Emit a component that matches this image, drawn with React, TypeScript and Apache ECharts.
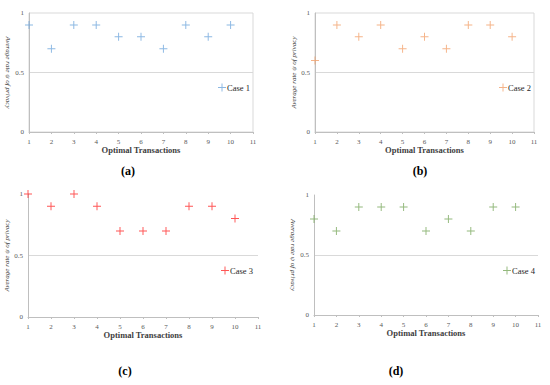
import React, { useEffect, useRef } from "react";
import * as echarts from "echarts";

const transactions = [1, 2, 3, 4, 5, 6, 7, 8, 9, 10];
const case1 = [0.9, 0.7, 0.9, 0.9, 0.8, 0.8, 0.7, 0.9, 0.8, 0.9];
const case2 = [0.6, 0.9, 0.8, 0.9, 0.7, 0.8, 0.7, 0.9, 0.9, 0.8];
const case3 = [1.0, 0.9, 1.0, 0.9, 0.7, 0.7, 0.7, 0.9, 0.9, 0.8];
const case4 = [0.8, 0.7, 0.9, 0.9, 0.9, 0.7, 0.8, 0.7, 0.9, 0.9];
const seriesNames = ["Case 1", "Case 2", "Case 3", "Case 4"];
const captions = ["(a)", "(b)", "(c)", "(d)"];
const xAxisName = "Optimal Transactions";
const yAxisName = "Average rate ψ of privacy";

const PLUS = "path://M0,4.4h10v1.2h-10z M4.4,0h1.2v10h-1.2z";
const FONT = "Liberation Serif";

export default function App() {
  const ref = useRef<HTMLDivElement>(null);
  useEffect(() => {
    if (!ref.current) return;
    const chart = echarts.init(ref.current, undefined, { renderer: "svg" });
    const values = [case1, case2, case3, case4];
    const colors = ["#6FA6DC", "#F2A06A", "#FF2B2B", "#79A75C"];
    const grids = [
      { left: 29, top: 13, width: 224, height: 119, show: true, borderColor: "#d9d9d9", borderWidth: 1 },
      { left: 315, top: 13, width: 219, height: 119, show: true, borderColor: "#d9d9d9", borderWidth: 1 },
      { left: 28, top: 194, width: 230, height: 123, show: false },
      { left: 314, top: 195, width: 224, height: 120, show: false },
    ];
    const legendPos = [
      { left: 218, top: 83 },
      { left: 499, top: 83 },
      { left: 221, top: 266 },
      { left: 503, top: 266 },
    ];
    const captionPos = [
      { left: 128, top: 165 },
      { left: 420, top: 165 },
      { left: 125, top: 365 },
      { left: 396, top: 365 },
    ];
    const yNameRotate = [-90, 90, 90, -90];

    const option: any = {
      animation: false,
      backgroundColor: "#ffffff",
      textStyle: { fontFamily: FONT },
      title: captions.map((c, i) => ({
        text: c,
        left: captionPos[i].left,
        top: captionPos[i].top,
        textAlign: "center",
        padding: 0,
        textStyle: { fontFamily: FONT, fontWeight: "bold", fontSize: 12, color: "#000" },
      })),
      grid: grids,
      legend: seriesNames.map((n, i) => ({
        data: [n],
        left: legendPos[i].left,
        top: legendPos[i].top,
        padding: 0,
        itemWidth: 8,
        itemHeight: 8,
        itemGap: 0,
        icon: PLUS,
        textStyle: { fontFamily: FONT, fontSize: 8.5, color: "#262626", padding: [0, 0, 0, -4] },
      })),
      xAxis: grids.map((_, i) => ({
        type: "value",
        gridIndex: i,
        min: 1,
        max: 11,
        interval: 1,
        name: xAxisName,
        nameLocation: "middle",
        nameGap: 12,
        nameTextStyle: { fontFamily: FONT, fontWeight: "bold", fontSize: 8.5, color: "#404040" },
        axisLine: { show: true, lineStyle: { color: "#bfbfbf", width: 1 } },
        axisTick: { show: true, length: 2, lineStyle: { color: "#bfbfbf" } },
        axisLabel: { fontFamily: FONT, fontSize: 7, color: "#595959", margin: 6 },
        splitLine: { show: false },
      })),
      yAxis: grids.map((_, i) => ({
        type: "value",
        gridIndex: i,
        min: 0,
        max: 1,
        interval: 0.5,
        name: yAxisName,
        nameLocation: "middle",
        nameGap: 17,
        nameRotate: yNameRotate[i],
        nameTextStyle: { fontFamily: FONT, fontStyle: "italic", fontSize: 7, color: "#404040" },
        axisLine: { show: true, lineStyle: { color: "#bfbfbf", width: 1 } },
        axisTick: { show: false },
        axisLabel: { fontFamily: FONT, fontSize: 7, color: "#595959", margin: 5 },
        splitLine: { show: true, showMinLine: false, showMaxLine: false, lineStyle: { color: "#d9d9d9", width: 1 } },
      })),
      series: values.map((vals, i) => ({
        type: "scatter",
        name: seriesNames[i],
        xAxisIndex: i,
        yAxisIndex: i,
        symbol: PLUS,
        symbolSize: 8,
        itemStyle: { color: colors[i] },
        data: transactions.map((t, j) => [t, vals[j]]),
      })),
    };
    chart.setOption(option);
    return () => chart.dispose();
  }, []);
  return <div ref={ref} style={{ width: 550, height: 385, position: "absolute", left: 0, top: 0 }} />;
}
